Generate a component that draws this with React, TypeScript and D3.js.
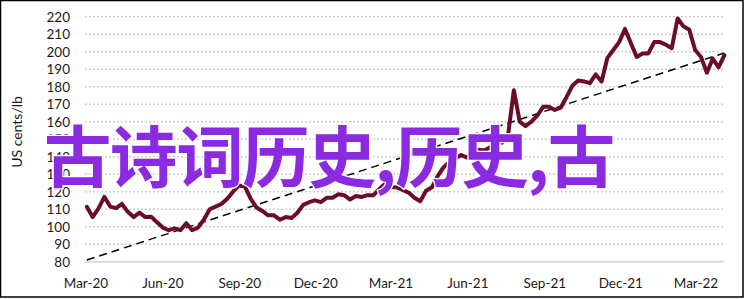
import React from "react";
import * as d3 from "d3";

const W = 746;
const H = 299;

const startWeek = "2020-03-02";
const priceValues: number[] = [
  111.4, 105.5, 110.5, 117, 111.5, 110.6, 113, 108.5, 105.5, 108,
  105.5, 105.7, 102.5, 99.5, 98, 99, 98, 102, 98, 99.5,
  104, 110, 111.5, 113, 116, 120, 123.5, 123, 116, 111,
  109, 106.5, 106.5, 104, 105.5, 105, 108, 112.5, 114, 115,
  114, 116.5, 116.5, 118.5, 118, 115.5, 117.5, 117, 118, 118,
  121.5, 124.5, 122.5, 122.5, 121, 119.5, 116.5, 114.5, 120.5, 122.5,
  129, 134, 137, 139, 141, 139.5, 141.5, 144, 143.5, 145.5,
  149, 148, 152, 178, 160, 157.5, 160, 163.5, 168.5, 168.5,
  166.7, 168, 174, 180.5, 183.5, 183, 182, 187, 183, 196.5,
  201, 205.5, 213, 205, 197, 199, 199, 205.5, 205.5, 204,
  202, 219, 214.5, 212.5, 201, 197, 188, 196, 191, 198,
];

const tickLabels = ["2020-03-01", "2020-06-01", "2020-09-01", "2020-12-01", "2021-03-01", "2021-06-01", "2021-09-01", "2021-12-01", "2022-03-01"];
const yTicks = [80, 90, 100, 110, 120, 130, 140, 150, 160, 170, 180, 190, 200, 210, 220];
const trendStart = { date: "2020-03-02", value: 81 };
const trendEnd = { date: "2022-04-04", value: 199.3 };
const yTitle = "US cents/lb";
const overlayText = "古诗词历史,历史,古";

const parse = d3.utcParse("%Y-%m-%d");

export default function App() {
  const x = d3
    .scaleUtc()
    .domain([parse("2020-03-01")!, parse("2022-03-01")!])
    .range([86, 696]);
  const y = d3.scaleLinear().domain([80, 220]).range([261.7, 16.7]);

  const start = parse(startWeek)!;
  const data = priceValues.map((v, i) => ({ date: d3.utcWeek.offset(start, i), value: v }));

  const line = d3
    .line<{ date: Date; value: number }>()
    .x((d) => x(d.date))
    .y((d) => y(d.value));

  const trend = [
    { date: parse(trendStart.date)!, value: trendStart.value },
    { date: parse(trendEnd.date)!, value: trendEnd.value },
  ];

  const fmt = d3.utcFormat("%b-%y");
  const gridX0 = 85;
  const gridX1 = x(data[data.length - 1].date);

  return (
    <div style={{ position: "absolute", left: 0, top: 0 }}>
      <svg width={W} height={H} style={{ display: "block", background: "#fff" }}>
        <rect x={0.5} y={0.5} width={742.5} height={296.5} fill="#fff" stroke="#000" strokeWidth={1.5} />
        {yTicks.map((t) =>
          t === 80 ? null : (
            <line
              key={"g" + t}
              x1={gridX0}
              x2={gridX1}
              y1={y(t)}
              y2={y(t)}
              stroke="#cfcfcf"
              strokeWidth={1.5}
              strokeDasharray="2 2"
            />
          )
        )}
        <line x1={gridX0} x2={gridX1} y1={y(80)} y2={y(80)} stroke="#d9d9d9" strokeWidth={2} />
        {yTicks.map((t) => (
          <text
            key={"yt" + t}
            x={70}
            y={y(t)}
            textAnchor="end"
            dominantBaseline="central"
            fontFamily="Lato, 'Open Sans', sans-serif"
            fontSize={13.5}
            fill="#1a1a1a"
          >
            {t}
          </text>
        ))}
        {tickLabels.map((s) => (
          <text
            key={"xt" + s}
            x={x(parse(s)!)}
            y={288}
            textAnchor="middle"
            fontFamily="Lato, 'Open Sans', sans-serif"
            fontSize={13.5}
            fill="#1a1a1a"
          >
            {fmt(parse(s)!)}
          </text>
        ))}
        <text
          transform={`translate(22,132) rotate(-90)`}
          textAnchor="middle"
          fontFamily="Lato, 'Open Sans', sans-serif"
          fontSize={14}
          fill="#1a1a1a"
        >
          {yTitle}
        </text>
        <path d={line(trend) || ""} fill="none" stroke="#000" strokeWidth={1.5} strokeDasharray="8 5" />
        <path
          d={line(data) || ""}
          fill="none"
          stroke="#6b0d24"
          strokeWidth={4}
          strokeLinejoin="round"
          strokeLinecap="round"
        />
        <text
          x={44}
          y={182}
          fontFamily="'Noto Sans CJK SC', sans-serif"
          fontSize={67.5}
          fontWeight={700}
          letterSpacing={-1.4}
          fill="#8a2be2"
          stroke="#ffffff"
          strokeWidth={2.5}
          style={{ paintOrder: "stroke" }}
        >
          {overlayText}
        </text>
      </svg>
    </div>
  );
}
